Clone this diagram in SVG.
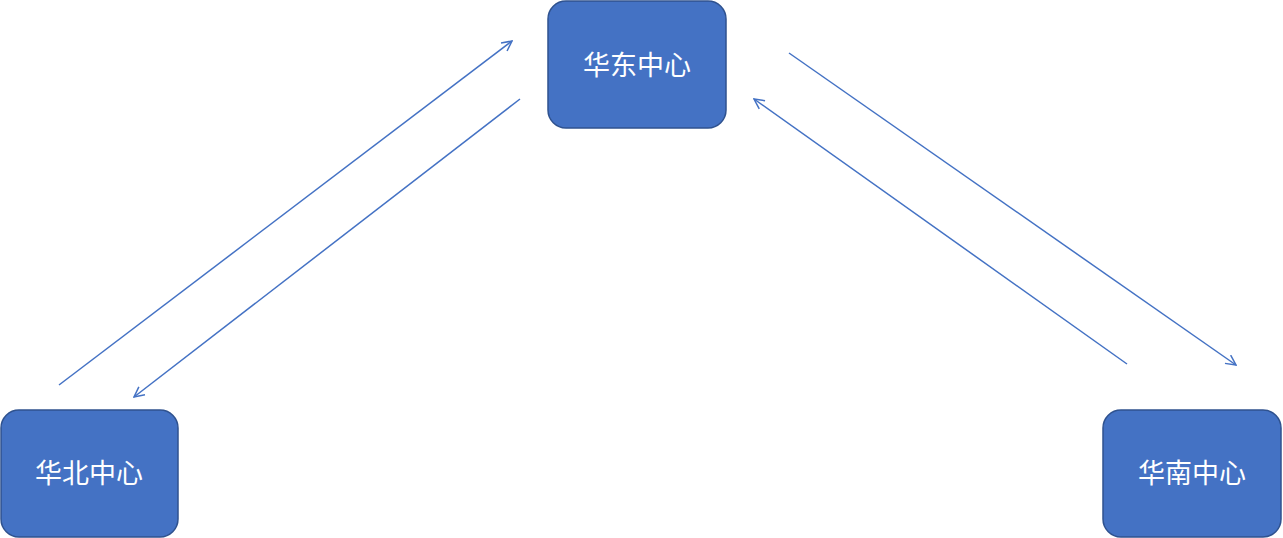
<svg xmlns="http://www.w3.org/2000/svg" width="1283" height="538" viewBox="0 0 1283 538">
<style>
.n{fill:#4472C4;stroke:#2F528F;stroke-width:1.5}
.t{fill:#fff;font-family:"Noto Sans CJK SC",sans-serif;font-size:27px;text-anchor:middle;dominant-baseline:central}
.c line{stroke:#4472C4;stroke-width:1.5;marker-end:url(#a)}
</style>
<defs><marker id="a" viewBox="0 0 12 12" refX="11" refY="6" markerWidth="12" markerHeight="12" markerUnits="userSpaceOnUse" orient="auto"><path d="M1 1L11 6L1 11" fill="none" stroke="#4472C4" stroke-width="1.5"/></marker></defs>
<rect width="1283" height="538" fill="#fff"/>
<g class="c">
<line x1="59" y1="385" x2="512" y2="41"/>
<line x1="520" y1="99" x2="134" y2="397"/>
<line x1="1127" y1="364" x2="754" y2="99"/>
<line x1="789" y1="53" x2="1236" y2="365"/>
</g>
<g id="east"><rect class="n" x="548" y="1" width="178" height="127" rx="18"/><text class="t" x="637" y="63">华东中心</text></g>
<g id="north"><rect class="n" x="1" y="410" width="177" height="127" rx="18"/><text class="t" x="89" y="471">华北中心</text></g>
<g id="south"><rect class="n" x="1103" y="410" width="178" height="127" rx="18"/><text class="t" x="1192" y="471">华南中心</text></g>
</svg>
